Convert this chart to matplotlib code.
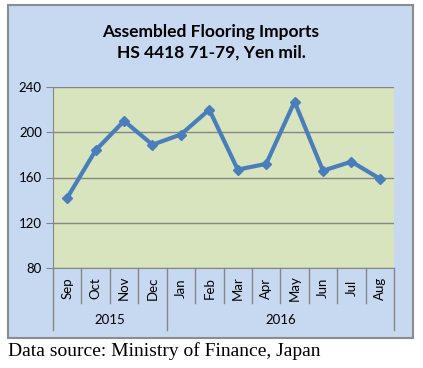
import matplotlib.pyplot as plt
from matplotlib.patches import Rectangle
from matplotlib.transforms import blended_transform_factory

months = ["Sep", "Oct", "Nov", "Dec", "Jan", "Feb", "Mar", "Apr", "May", "Jun", "Jul", "Aug"]
values = [142, 184, 210, 189, 198, 220, 167, 172, 227, 166, 174, 159]
years = ["2015", "2016"]
year_spans = [(0, 3), (4, 11)]
yticks = [80, 120, 160, 200, 240]

W, H = 423, 368
fig = plt.figure(figsize=(W / 100, H / 100), dpi=100)
fig.patch.set_facecolor("white")

# outer chart frame
frame = Rectangle((8 / W, 1 - 338 / H), 405 / W, 333 / H, transform=fig.transFigure,
                  facecolor="#c6d9f1", edgecolor="#8c8c8c", linewidth=1.5, zorder=-1)
fig.patches.append(frame)

ax = fig.add_axes([53 / W, 1 - 268 / H, 341 / W, 181 / H])
ax.set_facecolor("#d7e4bd")

x = list(range(len(months)))
ax.plot(x, values, color="#4a7ebb", linewidth=3, marker="D", markersize=5, zorder=3)

ax.set_xlim(-0.5, len(months) - 0.5)
ax.set_ylim(80, 240)
ax.set_yticks(yticks)
ax.set_yticklabels([str(v) for v in yticks], fontfamily="Lato", fontsize=9.5)
ax.tick_params(axis="y", length=5, color="#868686", pad=3)
ax.grid(axis="y", color="#868686", linewidth=1)
ax.set_axisbelow(True)
ax.set_xticks([])

for s in ["top", "right"]:
    ax.spines[s].set_visible(False)
ax.spines["left"].set_color("#868686")
ax.spines["bottom"].set_color("#868686")

trans = blended_transform_factory(ax.transData, ax.transAxes)
month_bottom = (268 - 303) / 181
year_bottom = (268 - 330) / 181
year_edges = [-0.5, 3.5, 11.5]
for i in range(len(months) + 1):
    xe = i - 0.5
    yb = year_bottom if xe in year_edges else month_bottom
    ax.plot([xe, xe], [0, yb], color="#868686", linewidth=1, transform=trans, clip_on=False)

for i, m in enumerate(months):
    ax.text(i, (268 - 288) / 181, m, transform=trans, rotation=90, ha="center", va="center",
            fontfamily="Lato", fontsize=9.5)

for yr, (a, b) in zip(years, year_spans):
    ax.text((a + b) / 2, (268 - 320) / 181, yr, transform=trans, ha="center", va="center",
            fontfamily="Lato", fontsize=9.5)

fig.text(211 / W, 1 - 32 / H, "Assembled Flooring Imports", ha="center", va="center",
         fontfamily="Lato", fontweight="bold", fontsize=12.5)
fig.text(211 / W, 1 - 53 / H, "HS 4418 71-79, Yen mil.", ha="center", va="center",
         fontfamily="Lato", fontweight="bold", fontsize=12.5)

fig.text(8 / W, 1 - 351 / H, "Data source: Ministry of Finance, Japan", ha="left", va="center",
         fontfamily="Liberation Serif", fontsize=14)

fig.savefig("out.png", dpi=100)
